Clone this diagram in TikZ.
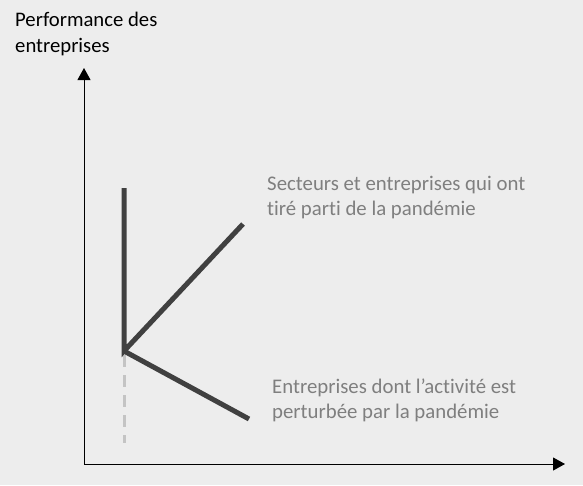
\documentclass[tikz,border=0pt]{standalone}
\usepackage{fontspec}
\setmainfont{Carlito}[Ligatures = NoCommon]
\usetikzlibrary{arrows.meta}
\definecolor{bggray}{HTML}{EDEDED}
\definecolor{linegray}{HTML}{404040}
\definecolor{dashgray}{HTML}{C4C4C4}
\definecolor{labelgray}{HTML}{7F7F7F}
\begin{document}
\begin{tikzpicture}[x=1pt, y=-1pt,
  axis/.style = {line width = 1pt, -{Triangle[length = 12pt, width = 13pt]}},
  curve/.style = {line width = 5pt, linegray},
  label/.style = {anchor = base west, inner sep = 0pt, align = left,
    text = labelgray, font = \fontsize{20.8}{25}\selectfont}]
  % background and page size
  \fill[bggray] (0, 0) rectangle (583, 485);
  \useasboundingbox (0, 0) rectangle (583, 485);
  % draw x and y axis
  \coordinate (O) at (84, 464);
  \coordinate (ytop) at (84, 68);
  \coordinate (xend) at (565, 464);
  \draw[axis] (O) -- (ytop);
  \draw[axis] (O) -- (xend);
  \node[anchor = base west, inner sep = 0pt, align = left,
  font = \fontsize{20.7}{26}\selectfont] (title) at (15, 52)
  {Performance des\\entreprises};
  % draw the K shape
  \coordinate (K) at (124, 351);
  \coordinate (Ktop) at (124, 188);
  \coordinate (Kup) at (243, 224);
  \coordinate (Kdown) at (249, 419);
  \coordinate (Kbase) at (124, 443);
  \draw[dashgray, line width = 3pt, dash pattern = on 12pt off 8pt]
  (K) ++(0, 4) -- (Kbase);
  \draw[curve] (Ktop) -- (K) -- (Kup);
  \draw[curve] (K) -- (Kdown);
  % labels
  \node[label] (winners) at (267, 215)
  {Secteurs et entreprises qui ont\\tiré parti de la pandémie};
  \node[label] (losers) at (272, 418)
  {Entreprises dont l’activité est\\perturbée par la pandémie};
\end{tikzpicture}
\end{document}
